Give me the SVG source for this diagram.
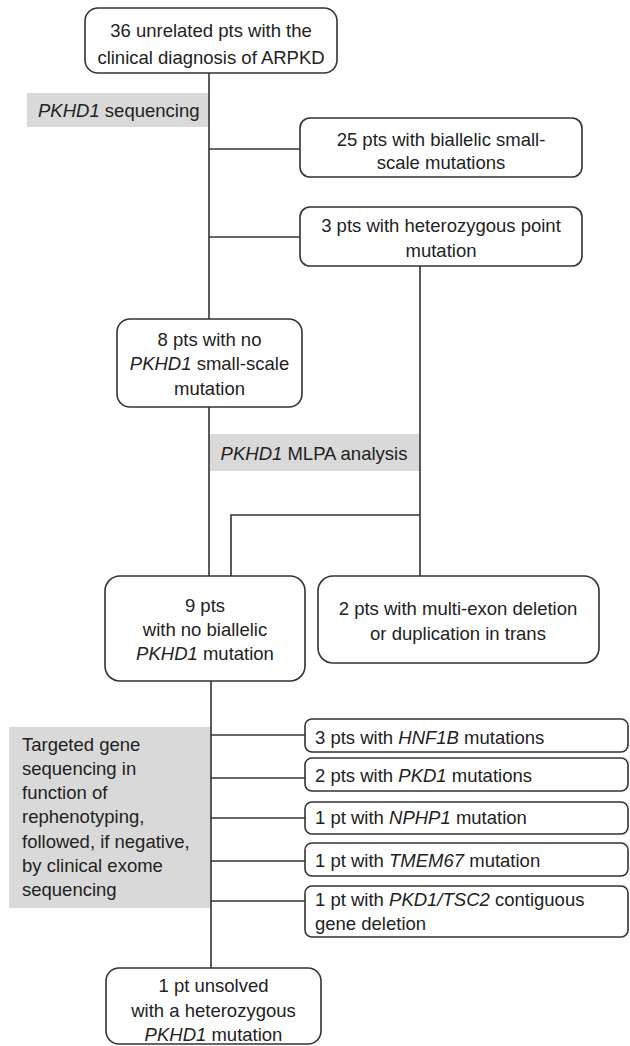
<svg xmlns="http://www.w3.org/2000/svg" width="630" height="1046" viewBox="0 0 630 1046">
<style>
text{font-family:"Liberation Sans",Arial,sans-serif;font-size:18.5px;fill:#222}
.c{text-anchor:middle}
.box{fill:#fff;stroke:#333;stroke-width:1.6}
.gray{fill:#d9d9d9;stroke:none}
.ln{stroke:#333;stroke-width:1.6;fill:none}
.i{font-style:italic}
</style>
<rect width="630" height="1046" fill="#fff"/>
<g id="labels">
<g id="lbl-seq"><rect class="gray" x="27" y="93" width="182" height="34"/><text x="38" y="116.5"><tspan class="i">PKHD1</tspan> sequencing</text></g>
<g id="lbl-mlpa"><rect class="gray" x="209" y="434" width="211" height="37"/><text class="c" x="314" y="459.5"><tspan class="i">PKHD1</tspan> MLPA analysis</text></g>
<g id="lbl-targeted"><rect class="gray" x="9" y="727" width="202" height="181"/>
<text x="22" y="751">Targeted gene</text>
<text x="22" y="775">sequencing in</text>
<text x="22" y="799">function of</text>
<text x="22" y="823">rephenotyping,</text>
<text x="22" y="848">followed, if negative,</text>
<text x="22" y="872">by clinical exome</text>
<text x="22" y="896">sequencing</text></g>
</g>
<g id="connectors">
<line class="ln" x1="209" y1="73" x2="209" y2="319"/>
<line class="ln" x1="209" y1="149" x2="300" y2="149"/>
<line class="ln" x1="209" y1="237" x2="300" y2="237"/>
<line class="ln" x1="420" y1="266" x2="420" y2="576"/>
<line class="ln" x1="209" y1="407" x2="209" y2="576"/>
<polyline class="ln" points="420,515 231,515 231,576"/>
<line class="ln" x1="211" y1="681" x2="211" y2="968"/>
<line class="ln" x1="211" y1="735" x2="305" y2="735"/>
<line class="ln" x1="211" y1="778" x2="305" y2="778"/>
<line class="ln" x1="211" y1="818" x2="305" y2="818"/>
<line class="ln" x1="211" y1="861" x2="305" y2="861"/>
<line class="ln" x1="211" y1="901" x2="305" y2="901"/>
</g>
<g id="n-36">
<rect class="box" x="85" y="8" width="252" height="65" rx="13"/>
<text class="c" x="211" y="36.5">36 unrelated pts with the</text>
<text class="c" x="211" y="63.5">clinical diagnosis of ARPKD</text>
</g>
<g id="n-25">
<rect class="box" x="300" y="118" width="282" height="59" rx="10"/>
<text class="c" x="441" y="145.5">25 pts with biallelic small-</text>
<text class="c" x="441" y="168.5">scale mutations</text>
</g>
<g id="n-3het">
<rect class="box" x="300" y="207" width="282" height="59" rx="10"/>
<text class="c" x="441" y="231.5">3 pts with heterozygous point</text>
<text class="c" x="441" y="256.5">mutation</text>
</g>
<g id="n-8">
<rect class="box" x="117" y="319" width="185" height="88" rx="13"/>
<text class="c" x="209.5" y="345.5">8 pts with no</text>
<text class="c" x="209.5" y="369.5"><tspan class="i">PKHD1</tspan> small-scale</text>
<text class="c" x="209.5" y="394.5">mutation</text>
</g>
<g id="n-9">
<rect class="box" x="105" y="576" width="200" height="105" rx="15"/>
<text class="c" x="205" y="611.5">9 pts</text>
<text class="c" x="205" y="635.5">with no biallelic</text>
<text class="c" x="205" y="659.5"><tspan class="i">PKHD1</tspan> mutation</text>
</g>
<g id="n-2">
<rect class="box" x="318" y="576" width="281" height="87" rx="15"/>
<text class="c" x="458" y="614.5">2 pts with multi-exon deletion</text>
<text class="c" x="458" y="639.5">or duplication in trans</text>
</g>
<g id="n-hnf1b">
<rect class="box" x="305" y="719" width="323" height="33" rx="7"/>
<text x="315" y="743.5">3 pts with <tspan class="i">HNF1B</tspan> mutations</text>
</g>
<g id="n-pkd1">
<rect class="box" x="305" y="758" width="323" height="33" rx="7"/>
<text x="315" y="781.5">2 pts with <tspan class="i">PKD1</tspan> mutations</text>
</g>
<g id="n-nphp1">
<rect class="box" x="305" y="802" width="323" height="32" rx="7"/>
<text x="315" y="823.5">1 pt with <tspan class="i">NPHP1</tspan> mutation</text>
</g>
<g id="n-tmem67">
<rect class="box" x="305" y="843" width="323" height="33" rx="7"/>
<text x="315" y="866.5">1 pt with <tspan class="i">TMEM67</tspan> mutation</text>
</g>
<g id="n-tsc2">
<rect class="box" x="305" y="886" width="323" height="51" rx="7"/>
<text x="315" y="905.5">1 pt with <tspan class="i">PKD1/TSC2</tspan> contiguous</text>
<text x="315" y="929.5">gene deletion</text>
</g>
<g id="n-unsolved">
<rect class="box" x="106" y="968" width="215" height="76" rx="13"/>
<text class="c" x="213.5" y="991.5">1 pt unsolved</text>
<text class="c" x="213.5" y="1016.5">with a heterozygous</text>
<text class="c" x="213.5" y="1041"><tspan class="i">PKHD1</tspan> mutation</text>
</g>
</svg>
